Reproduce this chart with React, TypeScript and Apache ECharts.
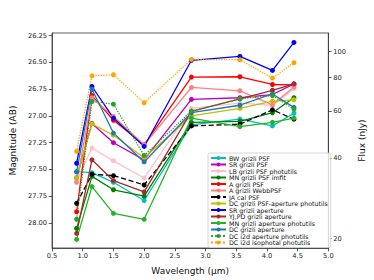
import React, { useEffect, useRef } from "react";
import * as echarts from "echarts";

const wavelengths = [0.9, 1.15, 1.5, 2.0, 2.77, 3.56, 4.09, 4.44];

const seriesNames = [
  "BW grizli PSF",
  "SR grizli PSF",
  "LB grizli PSF photutils",
  "MN grizli PSF imfit",
  "A grizli PSF",
  "A grizli WebbPSF",
  "JA cal PSF",
  "DC grizli PSF-aperture photutils",
  "SR grizli aperture",
  "YJ,PD grizli aperture",
  "MN grizli aperture photutils",
  "DC grizli aperture",
  "DC i2d aperture photutils",
  "DC i2d isophotal photutils",
];

const bwGrizliPsf = [27.52, 27.53, 27.62, 27.79, 27.083, 27.03, 27.093, 26.975];
const srGrizliPsf = [27.58, 27.07, 27.25, 27.41, 26.845, 26.83, 26.8, 26.7];
const lbGrizliPsfPhotutils = [27.61, 27.3, 27.42, 27.58, 26.93, 26.88, 26.9, 26.745];
const mnGrizliPsfImfit = [28.051, 27.565, 27.69, 27.75, 27.06, 27.05, 26.97, 26.83];
const aGrizliPsf = [27.895, 26.81, 27.04, 27.27, 26.637, 26.634, 26.706, 26.709];
const aGrizliWebbPsf = [27.62, 26.83, 27.005, 27.27, 26.734, 26.765, 26.896, 26.73];
const jaCalPsf = [27.817, 27.545, 27.558, 27.645, 27.093, 27.077, 26.943, 27.03];
const dcGrizliPsfAperture = [27.58, 27.074, 27.18, 27.39, 27.0, 26.93, 26.862, 26.849];
const srGrizliAperture = [27.442, 26.725, 27.02, 27.285, 26.48, 26.444, 26.575, 26.313];
const yjpdGrizliAperture = [28.097, 27.41, 27.605, 27.71, 26.957, 26.84, 26.76, 26.7];
const mnGrizliAperturePhotutils = [28.154, 27.66, 27.91, 27.966, 27.02, 27.1, 27.06, 27.02];
const dcGrizliAperture = [27.523, 26.75, 27.16, 27.43, 26.97, 26.9, 26.795, 26.92];
const dcI2dAperturePhotutils = [27.965, 26.865, 26.89, 27.37, 26.955, 26.84, 26.81, 26.936];
const dcI2dIsophotalPhotutils = [27.331, 26.625, 26.615, 26.877, 26.472, 26.475, 26.646, 26.503];

const allValues = [
  bwGrizliPsf,
  srGrizliPsf,
  lbGrizliPsfPhotutils,
  mnGrizliPsfImfit,
  aGrizliPsf,
  aGrizliWebbPsf,
  jaCalPsf,
  dcGrizliPsfAperture,
  srGrizliAperture,
  yjpdGrizliAperture,
  mnGrizliAperturePhotutils,
  dcGrizliAperture,
  dcI2dAperturePhotutils,
  dcI2dIsophotalPhotutils,
];

const seriesColors = [
  "#00bfbf",
  "#bf00bf",
  "#ffc0cb",
  "#008000",
  "#ff0000",
  "#ff8080",
  "#000000",
  "#bfbf00",
  "#0000ff",
  "#a52a2a",
  "#22b422",
  "#1f77b4",
  "#2ca02c",
  "#ffa500",
];

const lineTypes = [
  "solid", "solid", "solid", "solid", "solid", "solid", "dashed",
  "solid", "solid", "solid", "solid", "solid", "dotted", "dotted",
];

const magTicks = [26.25, 26.5, 26.75, 27.0, 27.25, 27.5, 27.75, 28.0];
const fluxTicks = [20, 40, 60, 80, 100];
const ZP = 31.4;
const magMin = 26.225;
const magMax = 28.234;

const FONT = "DejaVu Sans";

export default function App() {
  const ref = useRef<HTMLDivElement>(null);
  useEffect(() => {
    if (!ref.current) return;
    const chart = echarts.init(ref.current, null, { renderer: "svg" });
    const axisLineStyle = { color: "#333", width: 0.8 };
    const fluxMags = fluxTicks.map((f) => ZP - 2.5 * Math.log10(f));
    chart.setOption({
      animation: false,
      backgroundColor: "#fff",
      textStyle: { fontFamily: FONT },
      grid: {
        left: 46,
        right: 38,
        top: 33,
        bottom: 32,
        show: true,
        borderColor: "#333",
        borderWidth: 0.8,
        containLabel: false,
      },
      xAxis: {
        type: "value",
        min: 0.5,
        max: 5.0,
        interval: 0.5,
        name: "Wavelength (μm)",
        nameLocation: "middle",
        nameGap: 18,
        nameTextStyle: { fontSize: 9, color: "#111", fontFamily: FONT },
        axisLine: { show: true, lineStyle: axisLineStyle },
        axisTick: { show: true, inside: false, length: 3.3, lineStyle: axisLineStyle },
        axisLabel: {
          fontSize: 6.7,
          color: "#222",
          margin: 4.5,
          fontFamily: FONT,
          formatter: (v: number) => v.toFixed(1),
        },
        splitLine: { show: false },
      },
      yAxis: [
        {
          type: "value",
          inverse: true,
          min: magMin,
          max: magMax,
          position: "left",
          name: "Magnitude (AB)",
          nameLocation: "middle",
          nameGap: 28,
          nameTextStyle: { fontSize: 9, color: "#111", fontFamily: FONT },
          axisLine: { show: true, lineStyle: axisLineStyle },
          axisTick: { show: true, inside: false, length: 3.3, lineStyle: axisLineStyle, customValues: magTicks },
          axisLabel: {
            fontSize: 6.7,
            color: "#222",
            margin: 5,
            fontFamily: FONT,
            customValues: magTicks,
            formatter: (v: number) => v.toFixed(2),
          },
          splitLine: { show: false },
        },
        {
          type: "value",
          inverse: true,
          min: magMin,
          max: magMax,
          position: "right",
          name: "Flux (nJy)",
          nameLocation: "middle",
          nameGap: 24,
          nameRotate: 90,
          nameTextStyle: { fontSize: 9, color: "#111", fontFamily: FONT },
          axisLine: { show: true, lineStyle: axisLineStyle },
          axisTick: { show: true, inside: false, length: 3.3, lineStyle: axisLineStyle, customValues: fluxMags },
          axisLabel: {
            fontSize: 6.7,
            color: "#222",
            margin: 5,
            fontFamily: FONT,
            customValues: fluxMags,
            formatter: (v: number) => String(Math.round(Math.pow(10, (ZP - v) / 2.5))),
          },
          splitLine: { show: false },
        },
      ],
      legend: {
        orient: "vertical",
        left: 208,
        top: 153,
        itemWidth: 15,
        itemHeight: 5,
        itemGap: 0.5,
        padding: [2, 3, 2, 2],
        borderColor: "#ccc",
        borderWidth: 0.8,
        borderRadius: 2,
        backgroundColor: "rgba(255,255,255,0.8)",
        textStyle: { fontSize: 6.3, lineHeight: 6, color: "#111", fontFamily: FONT, padding: [0, 0, 0, -2] },
        data: seriesNames,
      },
      series: seriesNames.map((name, i) => ({
        name,
        type: "line",
        yAxisIndex: 0,
        data: wavelengths.map((w, j) => [w, allValues[i][j]]),
        symbol: "circle",
        symbolSize: 5,
        color: seriesColors[i],
        itemStyle: { color: seriesColors[i] },
        lineStyle: { color: seriesColors[i], width: 1.3, type: lineTypes[i] },
        emphasis: { disabled: true },
      })),
    });
    return () => chart.dispose();
  }, []);
  return (
    <div
      ref={ref}
      style={{ position: "fixed", left: 0, top: 0, width: 374, height: 280 }}
    />
  );
}
